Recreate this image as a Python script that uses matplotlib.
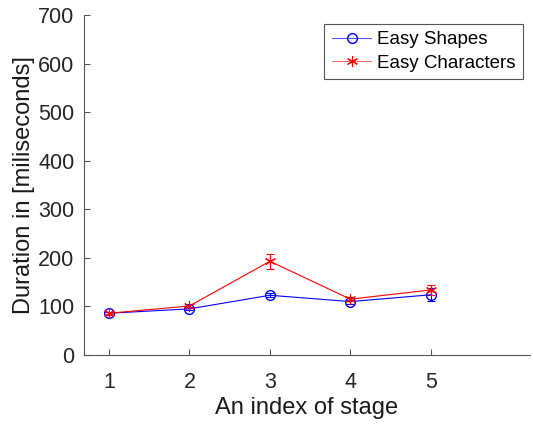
import matplotlib.pyplot as plt
from matplotlib.lines import Line2D

plt.rcParams['font.family'] = ['Liberation Sans', 'DejaVu Sans']

stages = [1, 2, 3, 4, 5]
shapes_mean = [86, 95, 123, 110, 124]
shapes_err = [3, 3, 4, 4, 13]
chars_mean = [86, 101, 193, 115, 134]
chars_err = [3, 4, 15, 4, 11]

fig = plt.figure(figsize=(5.33, 4.24), dpi=100)
ax = fig.add_axes([0.1576, 0.1627, 0.8364, 0.8019])

star = (6, 2, 0)
ax.errorbar(stages, shapes_mean, yerr=shapes_err, color='blue', marker='o',
            markerfacecolor='none', markersize=7, linewidth=0.8, elinewidth=0.8,
            capsize=3, capthick=0.8)
ax.errorbar(stages, chars_mean, yerr=chars_err, color='red', marker=star,
            markersize=8, markeredgewidth=0.8, linewidth=0.8, elinewidth=0.8,
            capsize=3, capthick=0.8)

ax.set_xlim(0.69, 6.23)
ax.set_ylim(0, 700)
ax.set_xticks(stages)
ax.set_yticks(range(0, 701, 100))

for side in ['top', 'right']:
    ax.spines[side].set_visible(False)
for side in ['left', 'bottom']:
    ax.spines[side].set_color('#555555')
    ax.spines[side].set_linewidth(0.8)
ax.tick_params(direction='in', length=4, colors='#555555', labelcolor='#262626',
               labelsize=15.5)
ax.tick_params(axis='x', pad=12)
ax.tick_params(axis='y', pad=7)

ax.set_xlabel('An index of stage', fontsize=17, color='#1a1a1a', labelpad=3)
ax.set_ylabel('Duration in [miliseconds]', fontsize=17, color='#1a1a1a', labelpad=2)

handles = [
    Line2D([], [], color='#5555ff', marker='o', markerfacecolor='none',
           markeredgecolor='blue', markersize=7, linewidth=0.8),
    Line2D([], [], color='#ff6666', marker=star, markeredgecolor='red',
           markersize=8, markeredgewidth=0.8, linewidth=0.8),
]
leg = ax.legend(handles, ['Easy Shapes', 'Easy Characters'], loc='upper right',
                bbox_to_anchor=(0.993, 0.985), fontsize=13.5,
                fancybox=False, framealpha=1, edgecolor='#555555',
                handlelength=2.1, borderpad=0.4, labelspacing=0.33,
                handletextpad=0.3, borderaxespad=0.2)
leg.get_frame().set_linewidth(0.8)

fig.savefig('out.png', dpi=100)
